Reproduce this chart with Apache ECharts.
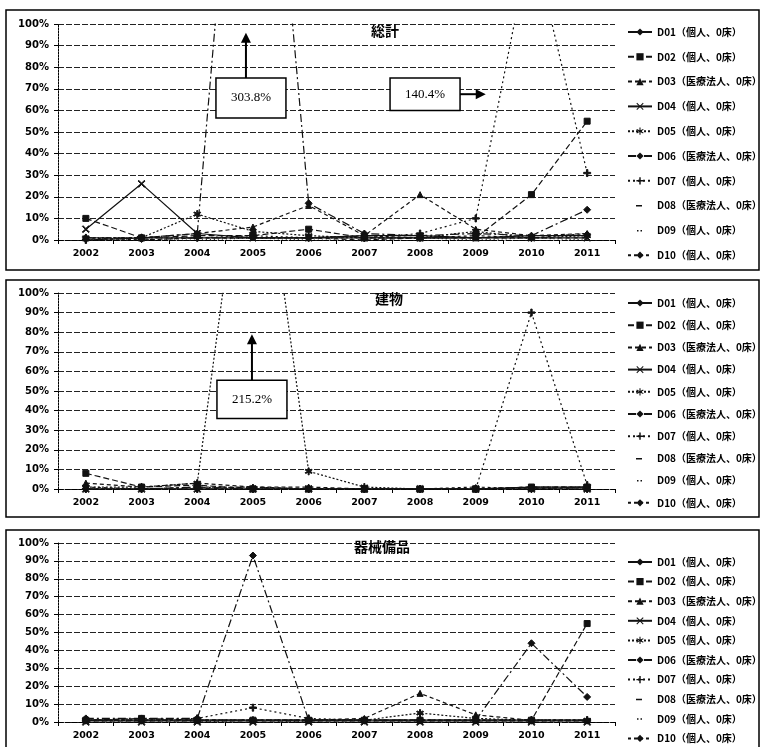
<!DOCTYPE html>
<html><head><meta charset="utf-8">
<script src="https://cdn.jsdelivr.net/npm/echarts@6/dist/echarts.min.js"></script>
<style>html,body{margin:0;padding:0;background:#fff}#c{width:761px;height:747px}</style>
</head><body><div id="c"></div><script>
// Year categories and y tick range (percent)
const years = ['2002','2003','2004','2005','2006','2007','2008','2009','2010','2011'];
const seriesNames = ['D01（個人、0床）','D02（個人、0床）','D03（医療法人、0床）','D04（個人、0床）','D05（個人、0床）',
  'D06（医療法人、0床）','D07（個人、0床）','D08（医療法人、0床）','D09（個人、0床）','D10（個人、0床）'];
const panelTitles = ['総計','建物','器械備品'];

// 総計 (total)
const totalD01 = [0, 1, 1, 1, 1, 2, 2, 1, 2, 2];
const totalD02 = [10, 1, 2, 2, 5, 1, 1, 1, 21, 55];
const totalD03 = [1, 1, 3, 6, 16, 2, 21, 5, 2, 3];
const totalD04 = [5, 26, 3, 1, 1, 1, 1, 1, 1, 1];
const totalD05 = [1, 1, 12, 4, 2, 1, 1, 4, 1, 2];
const totalD06 = [1, 1, 3, 303.8, 17, 3, 2, 3, 2, 14];
const totalD07 = [0, 1, 1, 2, 1, 1, 3, 10, 140.4, 31];
const totalD08 = [0, 0, 1, 1, 1, 0, 1, 1, 1, 1];
const totalD09 = [0, 0, 0, 1, 0, 0, 1, 0, 1, 0];
const totalD10 = [1, 0, 1, 1, 1, 2, 1, 2, 1, 3];

// 建物 (buildings)
const bldgD01 = [0, 0, 0, 0, 0, 0, 0, 0, 1, 1];
const bldgD02 = [8, 1, 2, 0, 0, 0, 0, 0, 1, 1];
const bldgD03 = [3, 1, 3, 1, 1, 0, 0, 0, 1, 1];
const bldgD04 = [0, 0, 0, 0, 0, 0, 0, 0, 0, 0];
const bldgD05 = [1, 1, 3, 215.2, 9, 1, 0, 0, 0, 0];
const bldgD06 = [0, 0, 1, 0, 0, 0, 0, 0, 0, 0];
const bldgD07 = [0, 0, 0, 0, 0, 0, 0, 0, 90, 2];
const bldgD08 = [0, 0, 0, 1, 0, 0, 0, 0, 0, 0];
const bldgD09 = [0, 0, 0, 0, 0, 0, 0, 0, 0, 0];
const bldgD10 = [1, 0, 1, 1, 0, 0, 0, 1, 0, 1];

// 器械備品 (equipment)
const equipD01 = [1, 1, 1, 1, 1, 1, 1, 1, 1, 1];
const equipD02 = [1, 2, 1, 1, 1, 1, 1, 1, 1, 55];
const equipD03 = [1, 1, 1, 1, 1, 2, 16, 4, 1, 1];
const equipD04 = [0, 0, 0, 0, 0, 0, 0, 0, 0, 0];
const equipD05 = [1, 1, 1, 1, 1, 1, 5, 2, 1, 1];
const equipD06 = [2, 2, 2, 93, 1, 1, 1, 1, 44, 14];
const equipD07 = [1, 1, 2, 8, 2, 1, 1, 1, 1, 1];
const equipD08 = [0, 0, 0, 0, 0, 0, 0, 0, 0, 0];
const equipD09 = [0, 0, 0, 1, 0, 0, 0, 0, 0, 0];
const equipD10 = [1, 1, 1, 1, 1, 1, 1, 1, 1, 1];

const yMin = 0, yMax = 100, yStep = 10;

const panels = [
  [totalD01,totalD02,totalD03,totalD04,totalD05,totalD06,totalD07,totalD08,totalD09,totalD10],
  [bldgD01,bldgD02,bldgD03,bldgD04,bldgD05,bldgD06,bldgD07,bldgD08,bldgD09,bldgD10],
  [equipD01,equipD02,equipD03,equipD04,equipD05,equipD06,equipD07,equipD08,equipD09,equipD10]
];

const X_SYM = 'path://M0,1L1,0L5,4L9,0L10,1L6,5L10,9L9,10L5,6L1,10L0,9L4,5Z';
const PLUS_SYM = 'path://M4,0H6V4H10V6H6V10H4V6H0V4H4Z';
const STAR_SYM = 'path://M4.3,0H5.7V3.8L9,1.9L9.7,3.1L6.4,5L9.7,6.9L9,8.1L5.7,6.2V10H4.3V6.2L1,8.1L0.3,6.9L3.6,5L0.3,3.1L1,1.9L4.3,3.8Z';
// legend keys drawn inside a 24x9 box (tiny corner specks keep the box size)
const DASH_ICON = 'path://M0,0L0.05,0L0,0.05ZM24,9L23.95,9L24,8.95ZM8,4H14V5.5H8Z';
const DOTS_ICON = 'path://M0,0L0.05,0L0,0.05ZM24,9L23.95,9L24,8.95ZM9,4H10.5V5.5H9ZM12.5,4H14V5.5H12.5Z';

// line/marker look of each of the ten series
const looks = [
  {type:'solid', sym:'diamond', size:5},
  {type:[6,3], sym:'rect', size:6},
  {type:[4,3], sym:'triangle', size:6},
  {type:'solid', sym:X_SYM, size:7},
  {type:[2,2], sym:STAR_SYM, size:7},
  {type:[8,3,2,3], sym:'diamond', size:7},
  {type:[2,3], sym:PLUS_SYM, size:7},
  {type:[4,4], sym:'none', size:0, icon:DASH_ICON},
  {type:[1,3], sym:'none', size:0, icon:DOTS_ICON},
  {type:[3,3], sym:'diamond', size:5}
];

const grids = [
  {left:58, top:24, width:557, height:216},
  {left:58, top:293, width:557, height:196},
  {left:58, top:543, width:557, height:179}
];
const legendTops = [22, 293, 552];
const legendGaps = [14.8, 12.2, 9.6];
const titlePos = [[366,19],[370,287],[349,535]];

const axisFont = {fontFamily:'DejaVu Sans', fontWeight:'bold', color:'#000'};

const legendData = seriesNames.map((n,i)=> looks[i].icon ? {name:n, icon:looks[i].icon} : {name:n});

const option = {
  animation:false,
  backgroundColor:'#fff',
  title: panelTitles.map((t,i)=>({text:t, left:titlePos[i][0], top:titlePos[i][1],
    textStyle:{fontFamily:'Noto Sans CJK JP', fontSize:14, fontWeight:'bold', color:'#000'}})),
  grid: grids,
  legend: grids.map((g,i)=>({
    orient:'vertical', left:622, top:legendTops[i], height:260, itemGap:legendGaps[i],
    itemWidth:24, itemHeight:9, data:legendData, selectedMode:false,
    textStyle:{fontFamily:'Noto Sans CJK JP', fontSize:10, fontWeight:'bold', color:'#000', lineHeight:10}
  })),
  xAxis: grids.map((g,i)=>({
    type:'category', gridIndex:i, data:years, boundaryGap:true,
    axisLine:{show:true, lineStyle:{color:'#000', width:1, type:[5,2]}},
    axisTick:{show:true, length:4, lineStyle:{color:'#000'}},
    axisLabel:{...axisFont, fontSize:9.5, margin:9}
  })),
  yAxis: grids.map((g,i)=>({
    type:'value', gridIndex:i, min:yMin, max:yMax, interval:yStep,
    axisLine:{show:true, lineStyle:{color:'#000', width:1, type:[2,1]}},
    axisTick:{show:true, length:4, lineStyle:{color:'#000'}},
    axisLabel:{...axisFont, fontSize:10, margin:9, formatter:'{value}%'},
    splitLine:{show:true, lineStyle:{color:'#222', width:1, type:[6,2]}}
  })),
  series: []
};

panels.forEach((arrs,p)=>{
  arrs.forEach((arr,i)=>{
    const lk = looks[i];
    option.series.push({
      type:'line', name:seriesNames[i], xAxisIndex:p, yAxisIndex:p, data:arr,
      symbol:lk.sym, symbolSize:lk.size, showSymbol:lk.sym!=='none', clip:true,
      lineStyle:{color:'#111', width:1.2, type:lk.type},
      itemStyle:{color:'#111', borderColor:'#111'},
      z: 3
    });
  });
});

const chart = echarts.init(document.getElementById('c'), null, {renderer:'canvas'});
chart.setOption(option);

// Panel frames and value call-outs
function px(gi, cat, val){ return chart.convertToPixel({gridIndex:gi}, [cat, val]); }
function callout(gi, cat, yTop, yBot, text, halfW, dx){
  const a = px(gi, cat, yTop), b = px(gi, cat, yBot);
  const cx = a[0] + (dx||0);
  return {x:cx-halfW, y:a[1], w:halfW*2, h:b[1]-a[1], cx:cx, text:text};
}
function boxEls(c){
  return [
    {type:'rect', shape:{x:c.x, y:c.y, width:c.w, height:c.h}, style:{fill:'#fff', stroke:'#000', lineWidth:1.5}, z:50},
    {type:'text', x:c.cx, y:c.y+c.h/2, style:{text:c.text, fill:'#000', font:'13px "Liberation Serif"', align:'center', verticalAlign:'middle'}, z:51}
  ];
}
function arrowUp(x, y0, y1){
  return [
    {type:'line', shape:{x1:x, y1:y0, x2:x, y2:y1+8}, style:{stroke:'#000', lineWidth:2}, z:50},
    {type:'polygon', shape:{points:[[x-5,y1+10],[x+5,y1+10],[x,y1]]}, style:{fill:'#000'}, z:50}
  ];
}
function arrowRight(x0, x1, y){
  return [
    {type:'line', shape:{x1:x0, y1:y, x2:x1-8, y2:y}, style:{stroke:'#000', lineWidth:2}, z:50},
    {type:'polygon', shape:{points:[[x1-10,y-5],[x1-10,y+5],[x1,y]]}, style:{fill:'#000'}, z:50}
  ];
}

const c1 = callout(0, '2005', 75, 56.5, '303.8%', 35, -2);
const c2 = callout(0, '2008', 75, 60, '140.4%', 35, 5);
const c3 = callout(1, '2005', 55.5, 36, '215.2%', 35, -1);
const midY2 = (c2.y + c2.y + c2.h)/2;

const frames = [[6,10,753,260],[6,280,753,237],[6,530,753,230]].map(r=>({
  type:'rect', shape:{x:r[0], y:r[1], width:r[2], height:r[3]},
  style:{fill:'none', stroke:'#000', lineWidth:1.5}, z:60
}));

chart.setOption({graphic: [].concat(
  frames,
  boxEls(c1), arrowUp(c1.cx-5, c1.y, px(0,'2005',96)[1]),
  boxEls(c2), arrowRight(c2.x+c2.w, px(0,'2009',0)[0]+10, midY2),
  boxEls(c3), arrowUp(c3.cx, c3.y, px(1,'2005',79)[1])
)});
</script></body></html>
